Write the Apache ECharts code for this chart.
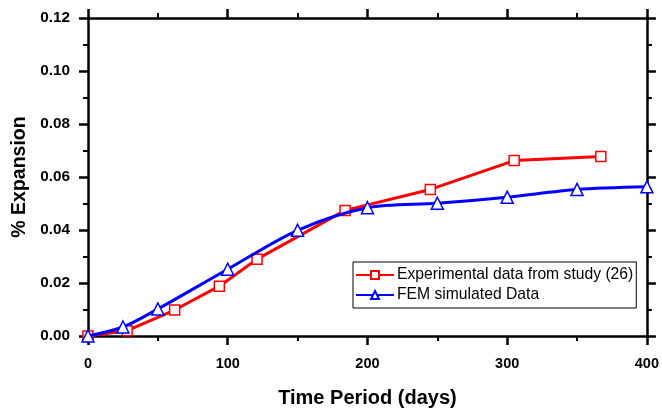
<!DOCTYPE html>
<html><head><meta charset="utf-8">
<script src="https://cdn.jsdelivr.net/npm/echarts@6/dist/echarts.min.js"></script>
<style>html,body{margin:0;padding:0;background:#fff}#c{width:662px;height:413px}</style>
</head><body><div id="c"></div>
<script>
const expDays = [0, 28, 62, 94, 121, 184, 245, 305, 367];
const expValues = [0.0, 0.002, 0.0098, 0.0188, 0.029, 0.0474, 0.0553, 0.0662, 0.0677];
const femDays = [0, 25, 50, 100, 150, 200, 250, 300, 350, 400];
const femValues = [0.0, 0.0034, 0.0102, 0.0252, 0.0399, 0.0484, 0.0501, 0.0524, 0.0553, 0.0563];
const seriesNames = ['Experimental data from study (26)', 'FEM simulated Data'];
const xTitle = 'Time Period (days)';
const yTitle = '% Expansion';

const font = 'Liberation Sans, Arial, sans-serif';
const axisLine = {show: true, onZero: false, lineStyle: {color: '#000', width: 2.5}};
const tick = {show: true, length: 9, lineStyle: {color: '#000', width: 2.5}};
const minor = {show: true, splitNumber: 2, length: 5, lineStyle: {color: '#000', width: 2}};

const chart = echarts.init(document.getElementById('c'));
chart.setOption({
  animation: false,
  backgroundColor: '#fff',
  grid: {left: 88, right: 11, top: 18, bottom: 76},
  legend: {
    left: 353, top: 262, orient: 'vertical',
    itemWidth: 38, itemHeight: 10, itemGap: 4,
    padding: [5, 3, 5, 2],
    borderColor: '#000', borderWidth: 1,
    backgroundColor: '#fff',
    textStyle: {fontFamily: font, fontSize: 15.7, color: '#000', padding: [0, 0, 0, -2]},
    data: seriesNames
  },
  xAxis: [{
    type: 'value', min: 0, max: 400, interval: 100, position: 'bottom',
    name: xTitle, nameLocation: 'middle', nameGap: 52,
    nameTextStyle: {fontFamily: font, fontSize: 20, fontWeight: 'bold', color: '#000'},
    axisLine, axisTick: tick, minorTick: minor, splitLine: {show: false},
    axisLabel: {fontFamily: font, fontSize: 14.5, fontWeight: 'bold', color: '#000', margin: 20}
  }, {
    type: 'value', min: 0, max: 400, interval: 100, position: 'top',
    axisLine, axisTick: tick, minorTick: minor, splitLine: {show: false},
    axisLabel: {show: false}
  }],
  yAxis: [{
    type: 'value', min: 0, max: 0.12, interval: 0.02, position: 'left',
    name: yTitle, nameLocation: 'middle', nameGap: 58, nameRotate: 90,
    nameTextStyle: {fontFamily: font, fontSize: 19.5, fontWeight: 'bold', color: '#000'},
    axisLine, axisTick: tick, minorTick: minor, splitLine: {show: false},
    axisLabel: {fontFamily: font, fontSize: 15.3, fontWeight: 'bold', color: '#000', margin: 18,
      formatter: v => v.toFixed(2)}
  }, {
    type: 'value', min: 0, max: 0.12, interval: 0.02, position: 'right',
    axisLine, axisTick: tick, minorTick: minor, splitLine: {show: false},
    axisLabel: {show: false}
  }],
  series: [{
    name: seriesNames[0], type: 'line',
    data: expDays.map((d, i) => [d, expValues[i]]),
    symbol: 'rect', symbolSize: 10, showAllSymbol: true,
    lineStyle: {color: '#ff0000', width: 3},
    itemStyle: {color: '#fff', borderColor: '#ff0000', borderWidth: 1.5},
    clip: false, z: 2
  }, {
    name: seriesNames[1], type: 'line', smooth: 0.3,
    data: femDays.map((d, i) => [d, femValues[i]]),
    symbol: 'triangle', symbolSize: 12, showAllSymbol: true,
    lineStyle: {color: '#0000ff', width: 3},
    itemStyle: {color: '#fff', borderColor: '#0000ff', borderWidth: 1.5},
    clip: false, z: 3
  }]
});
</script></body></html>
